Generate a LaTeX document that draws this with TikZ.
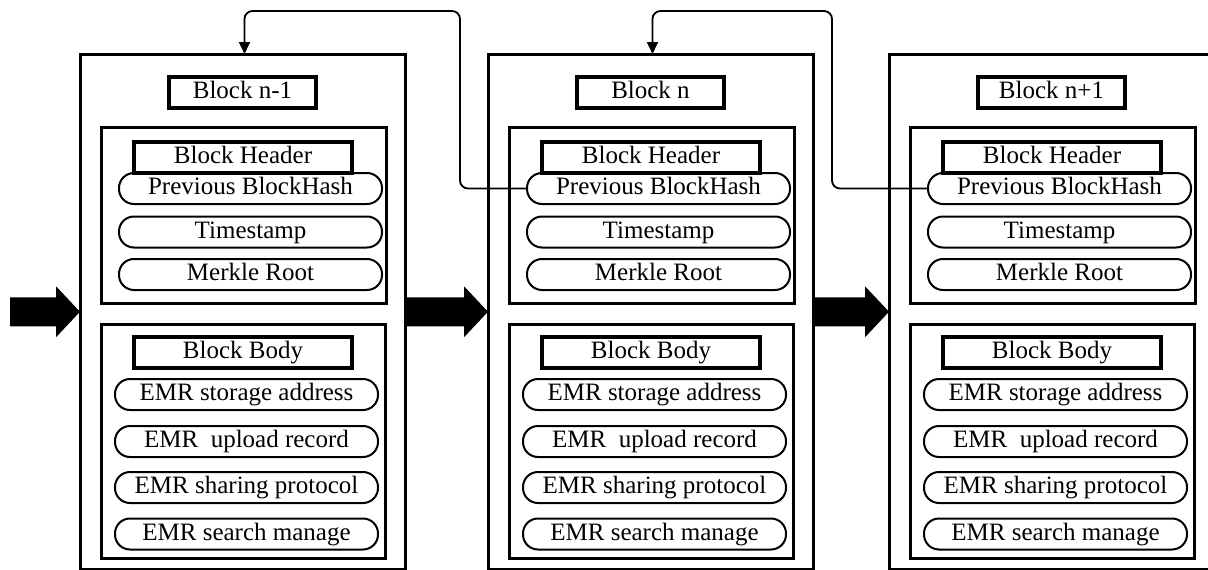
\documentclass[tikz,border=0pt]{standalone}
\usepackage{fontspec}
\setmainfont{Liberation Serif}
\usetikzlibrary{arrows.meta,calc}

% solid block arrow from #1 to the tip point #2
\newcommand\fatarrow[2]{%
  \fill ($(#1)+(0,-14.5)$) -- ($(#2)+(-24,-14.5)$) -- ($(#2)+(-24,-25.5)$)
     -- (#2) -- ($(#2)+(-24,25.5)$) -- ($(#2)+(-24,14.5)$)
     -- ($(#1)+(0,14.5)$) -- cycle;}

\begin{document}
\begin{tikzpicture}[x=1pt,y=-1pt,
  every node/.style={outer sep=0pt, inner sep=0pt,
    font=\fontsize{25}{28}\selectfont, text height=17pt, text depth=5pt},
  outerbox/.style={draw, line width=3pt, minimum width=325pt, minimum height=515.5pt},
  partbox/.style={draw, line width=3pt},
  titlebox/.style={draw, line width=3.5pt, minimum height=31pt},
  pill/.style={draw, line width=2pt, rounded corners=15pt,
    minimum width=263pt, minimum height=31pt},
  link/.style={line width=1.8pt, rounded corners=8pt,
    -{Triangle[width=11pt,length=12pt]}}]

\useasboundingbox (0,0) rectangle (1208,570);
\clip (0,0) rectangle (1208,570);

\foreach \L/\id/\name in {80/a/{Block n-1}, 488/b/{Block n}, 889/c/{Block n+1}}{
  \node[outerbox] (\id-out) at (\L+162.5,311.75) {};
  \node[titlebox, minimum width=147pt] (\id-title) at (\L+162.5,92.5) {\name};
  % header section
  \node[partbox, minimum width=285pt, minimum height=176pt] (\id-head) at (\L+163.5,215) {};
  \node[titlebox, minimum width=218pt] (\id-headlab) at (\L+163,157.5) {Block Header};
  \node[pill] (\id-prev) at (\L+170.5,188.5) {Previous BlockHash};
  \node[pill] (\id-time) at (\L+170.5,232) {Timestamp};
  \node[pill] (\id-merkle) at (\L+170.5,274.5) {Merkle Root};
  % body section
  \node[partbox, minimum width=284pt, minimum height=234pt] (\id-body) at (\L+163,441) {};
  \node[titlebox, minimum width=218pt] (\id-bodylab) at (\L+163,352.5) {Block Body};
  \node[pill] (\id-store) at (\L+166.5,394.5) {EMR storage address};
  \node[pill] (\id-upload) at (\L+166.5,441.5) {EMR\ \ upload record};
  \node[pill] (\id-share) at (\L+166.5,487.5) {EMR sharing protocol};
  \node[pill] (\id-search) at (\L+166.5,534) {EMR search manage};
}

% chain arrows
\coordinate (in) at (10,311.75);
\fatarrow{in}{a-out.west}
\fatarrow{a-out.east}{b-out.west}
\fatarrow{b-out.east}{c-out.west}

% hash links back to the previous block
\draw[link] (b-prev.west) -| (460,11) -| ($(a-out.north)+(2,0)$);
\draw[link] (c-prev.west) -| (832,11) -| ($(b-out.north)+(2,0)$);
\end{tikzpicture}
\end{document}
